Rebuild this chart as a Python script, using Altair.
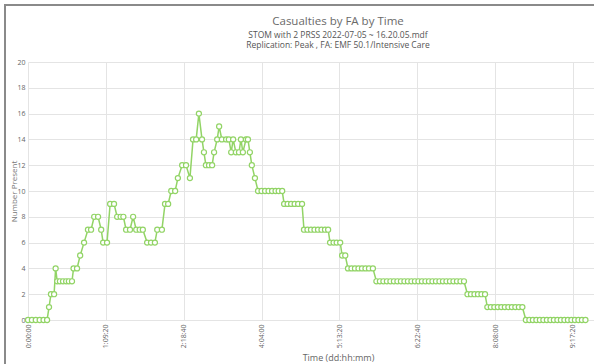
import altair as alt
import pandas as pd

# Simulation output: elapsed time (minutes) and casualties present at the facility
minutes = [
    0, 100, 200, 300, 400, 490, 540, 590, 670, 710,
    750, 820, 900, 980, 1050, 1130, 1170, 1260, 1340, 1440,
    1540, 1620, 1700, 1800, 1880, 1930, 2030, 2110, 2210, 2290,
    2380, 2450, 2520, 2620, 2700, 2780, 2870, 2950, 3060, 3160,
    3260, 3320, 3440, 3520, 3600, 3680, 3780, 3850, 3960, 4060,
    4160, 4240, 4320, 4390, 4470, 4520, 4570, 4650, 4730, 4780,
    4860, 4910, 4980, 5090, 5160, 5220, 5270, 5340, 5420, 5470,
    5520, 5600, 5650, 5700, 5750, 5830, 5910, 6000, 6090, 6180,
    6270, 6360, 6440, 6530, 6580, 6670, 6760, 6850, 6940, 7040,
    7090, 7180, 7270, 7360, 7450, 7540, 7630, 7710, 7760, 7850,
    7930, 8020, 8070, 8150, 8220, 8310, 8400, 8490, 8580, 8670,
    8760, 8860, 8950, 9040, 9130, 9220, 9310, 9400, 9490, 9580,
    9670, 9760, 9850, 9940, 10030, 10120, 10210, 10300, 10390, 10480,
    10570, 10660, 10750, 10840, 10930, 11020, 11110, 11200, 11290, 11380,
    11470, 11560, 11650, 11740, 11800, 11890, 11980, 12070, 12160, 12250,
    12340, 12430, 12520, 12610, 12700, 12790, 12880, 12970, 13060, 13150,
    13240, 13330, 13420, 13510, 13600, 13690, 13780, 13870, 13960, 14050,
    14140, 14230, 14320,
]
present = [
    0, 0, 0, 0, 0, 0, 1, 2, 2, 4,
    3, 3, 3, 3, 3, 3, 4, 4, 5, 6,
    7, 7, 8, 8, 7, 6, 6, 9, 9, 8,
    8, 8, 7, 7, 8, 7, 7, 7, 6, 6,
    6, 7, 7, 9, 9, 10, 10, 11, 12, 12,
    11, 14, 14, 16, 14, 13, 12, 12, 12, 13,
    14, 15, 14, 14, 14, 13, 14, 13, 13, 14,
    13, 14, 14, 13, 12, 11, 10, 10, 10, 10,
    10, 10, 10, 10, 9, 9, 9, 9, 9, 9,
    7, 7, 7, 7, 7, 7, 7, 7, 6, 6,
    6, 6, 5, 5, 4, 4, 4, 4, 4, 4,
    4, 4, 3, 3, 3, 3, 3, 3, 3, 3,
    3, 3, 3, 3, 3, 3, 3, 3, 3, 3,
    3, 3, 3, 3, 3, 3, 3, 3, 2, 2,
    2, 2, 2, 2, 1, 1, 1, 1, 1, 1,
    1, 1, 1, 1, 1, 0, 0, 0, 0, 0,
    0, 0, 0, 0, 0, 0, 0, 0, 0, 0,
    0, 0, 0,
]

tick_minutes = [0, 2000, 4000, 6000, 8000, 10000, 12000, 14000]
tick_labels = ["0:00:00", "1:09:20", "2:18:40", "4:04:00",
               "5:13:20", "6:22:40", "8:08:00", "9:17:20"]
y_ticks = [0, 2, 4, 6, 8, 10, 12, 14, 16, 18, 20]

title_text = "Casualties by FA by Time"
subtitle_lines = ["STOM with 2 PRSS 2022-07-05 ~ 16.20.05.mdf",
                  "Replication: Peak , FA: EMF 50.1/Intensive Care"]

df = pd.DataFrame({"minutes": minutes, "present": present})

label_expr = " : ".join(
    f"datum.value == {m} ? '{lab}'" for m, lab in zip(tick_minutes, tick_labels)
) + " : ''"

FONT = "Open Sans"
GREEN = "#92d466"
W, H = 566, 258

x_enc = alt.X(
    "minutes:Q",
    scale=alt.Scale(domain=[0, 14540], nice=False, zero=False),
    axis=alt.Axis(
        values=tick_minutes, labelExpr=label_expr, labelAngle=270,
        labelFontSize=7, labelColor="#666", labelFont=FONT, labelPadding=4,
        labelOverlap=False, ticks=False, domain=False, gridColor="#e4e4e4",
        labelFlush=False,
        title="Time (dd:hh:mm)", titleFont=FONT, titleFontSize=9,
        titleFontWeight="normal", titleColor="#666", titleX=310, titleY=37,
        titleAlign="center", titleBaseline="middle",
    ),
)
y_enc = alt.Y(
    "present:Q",
    scale=alt.Scale(domain=[0, 20], nice=False),
    axis=alt.Axis(
        values=y_ticks, labelFontSize=7, labelColor="#666", labelFont=FONT,
        labelPadding=3, labelOverlap=False, ticks=False, domain=False,
        gridColor="#e4e4e4",
        title="Number Present", titleFont=FONT, titleFontSize=8,
        titleFontWeight="normal", titleColor="#777", titleAngle=270,
        titleX=-14, titleY=H / 2, titleAlign="center", titleBaseline="middle",
    ),
)

base = alt.Chart(df).encode(x=x_enc, y=y_enc)
line = base.mark_line(color=GREEN, strokeWidth=1.5)
dots = base.mark_point(
    shape="circle", filled=True, fill="white", stroke=GREEN,
    strokeWidth=1.2, size=26, opacity=1,
)

# window frame around the chart panel
one = alt.Chart(pd.DataFrame({"k": [0]}))
frame_left = one.mark_rule(color="#8a8a8a", strokeWidth=2).encode(
    x=alt.value(-23), y=alt.value(-57), y2=alt.value(H + 44)
)
frame_top = one.mark_rule(color="#8a8a8a", strokeWidth=2).encode(
    x=alt.value(-24), x2=alt.value(W), y=alt.value(-57)
)

chart = (
    alt.layer(line, dots, frame_left, frame_top)
    .properties(
        width=W, height=H,
        autosize=alt.AutoSizeParams(type="none"),
        padding={"left": 28, "top": 62, "right": 0, "bottom": 44},
        background="white",
        title=alt.TitleParams(
            text=title_text, subtitle=subtitle_lines, anchor="middle",
            frame="group", dx=27, offset=-45, font=FONT, fontSize=11.5,
            fontWeight="normal", color="#6a6a6a", subtitleFont=FONT,
            subtitleFontSize=8.5, subtitleColor="#555", subtitlePadding=3,
            subtitleLineHeight=10,
        ),
    )
    .configure_view(strokeWidth=0)
)

chart.save("out.html", embed_options={"renderer": "svg", "actions": False})
